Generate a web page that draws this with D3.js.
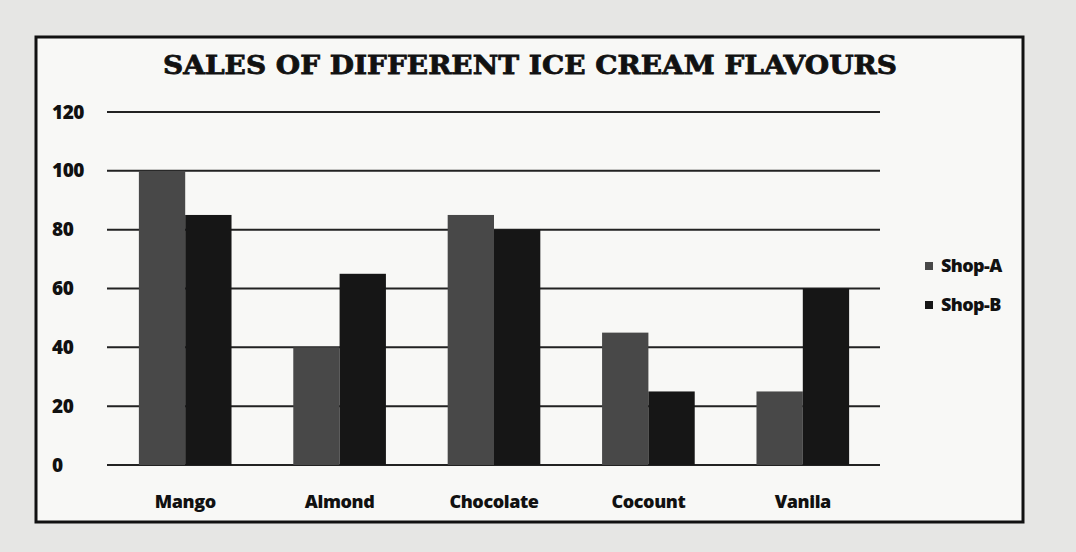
<!DOCTYPE html>
<html><head><meta charset="utf-8">
<script src="https://cdn.jsdelivr.net/npm/d3@7"></script>
<style>html,body{margin:0;padding:0;background:#e6e6e4;}svg{display:block;}</style>
</head><body>
<svg id="c" width="1076" height="552"></svg>
<script>
const categories = ["Mango","Almond","Chocolate","Cocount","Vanila"];
const seriesNames = ["Shop-A","Shop-B"];
const shopA = [100,40,85,45,25];
const shopB = [85,65,80,25,60];
const yTicks = [0,20,40,60,80,100,120];
const colors = ["#484848","#161616"];

const svg = d3.select("#c");
svg.append("rect").attr("x",0).attr("y",0).attr("width",1076).attr("height",552).attr("fill","#e6e6e4");
svg.append("rect").attr("x",36).attr("y",37).attr("width",987).attr("height",485)
  .attr("fill","#f8f8f6").attr("stroke","#111").attr("stroke-width",3);

const x = d3.scaleBand().domain(categories).range([108,880]).paddingInner(0.4).paddingOuter(0.2);
const xs = d3.scaleBand().domain(seriesNames).range([0,x.bandwidth()]);
const y = d3.scaleLinear().domain([0,120]).range([465,112]);

// gridlines
svg.append("g").selectAll("line").data(yTicks).join("line")
  .attr("x1",107).attr("x2",880).attr("y1",d=>y(d)).attr("y2",d=>y(d))
  .attr("stroke","#222").attr("stroke-width",2);

// y tick labels
svg.append("g").selectAll("text").data(yTicks).join("text")
  .attr("x",52).attr("y",d=>y(d)).attr("dy","0.35em")
  .attr("font-family","Open Sans, sans-serif").attr("font-weight",800).attr("font-size",19)
  .attr("letter-spacing","-0.5").attr("fill","#111").text(d=>d);

// bars
const data = categories.map((c,i)=>({c, vals:[shopA[i],shopB[i]]}));
const g = svg.append("g").selectAll("g").data(data).join("g")
  .attr("transform",d=>`translate(${x(d.c)},0)`);
g.selectAll("rect").data(d=>d.vals.map((v,j)=>({s:seriesNames[j],v,j}))).join("rect")
  .attr("x",d=>xs(d.s)).attr("width",xs.bandwidth())
  .attr("y",d=>y(d.v)).attr("height",d=>y(0)-y(d.v))
  .attr("fill",d=>colors[d.j]);

// category labels
svg.append("g").selectAll("text").data(categories).join("text")
  .attr("x",d=>x(d)+x.bandwidth()/2).attr("y",502).attr("dy","0.35em").attr("text-anchor","middle")
  .attr("font-family","Open Sans, sans-serif").attr("font-weight",800).attr("font-size",18)
  .attr("letter-spacing","-0.4").attr("fill","#111").text(d=>d);

// title
svg.append("text").attr("x",530).attr("y",74).attr("text-anchor","middle")
  .attr("font-family","DejaVu Serif, serif").attr("font-weight",900).attr("font-size",26)
  .attr("textLength",734).attr("lengthAdjust","spacingAndGlyphs")
  .attr("stroke","#111").attr("stroke-width",0.8)
  .attr("fill","#111").text("SALES OF DIFFERENT ICE CREAM FLAVOURS");

// legend
const lg = svg.append("g").selectAll("g").data(seriesNames).join("g")
  .attr("transform",(d,i)=>`translate(925,${266+i*39})`);
lg.append("rect").attr("x",0).attr("y",-4).attr("width",8).attr("height",8).attr("fill",(d,i)=>colors[i]);
lg.append("text").attr("x",16).attr("y",0).attr("dy","0.35em")
  .attr("font-family","Open Sans, sans-serif").attr("font-weight",800).attr("font-size",18)
  .attr("letter-spacing","-0.6").attr("fill","#111").text(d=>d);
</script>
</body></html>
